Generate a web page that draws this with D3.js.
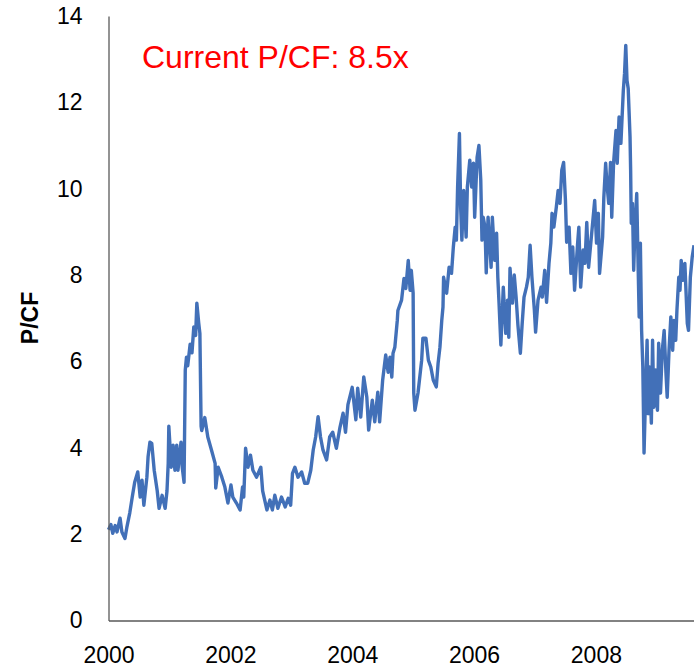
<!DOCTYPE html>
<html>
<head>
<meta charset="utf-8">
<script src="https://cdn.jsdelivr.net/npm/d3@7"></script>
<style>
  body { margin: 0; background: #fff; }
  svg { display: block; font-family: "Liberation Sans", Arial, sans-serif; }
  .axis text { font-size: 23px; fill: #000; }
  .axis path { stroke: #595959; stroke-width: 1.3; }
</style>
</head>
<body>
<svg id="chart" width="694" height="667"></svg>
<script>
// decimal year of each reading
var years = [
  2000.00, 2000.04, 2000.07, 2000.11, 2000.14, 2000.19, 2000.22, 2000.27, 2000.30, 2000.35,
  2000.39, 2000.43, 2000.48, 2000.52, 2000.55, 2000.58, 2000.63, 2000.65, 2000.68, 2000.71,
  2000.75, 2000.80, 2000.83, 2000.88, 2000.93, 2000.96, 2000.98, 2000.99, 2001.03, 2001.06,
  2001.09, 2001.12, 2001.14, 2001.19, 2001.21, 2001.24, 2001.26, 2001.28, 2001.30, 2001.34,
  2001.37, 2001.40, 2001.43, 2001.45, 2001.48, 2001.50, 2001.52, 2001.53, 2001.58, 2001.63,
  2001.69, 2001.75, 2001.76, 2001.80, 2001.86, 2001.91, 2001.96, 2002.01, 2002.04, 2002.10,
  2002.16, 2002.20, 2002.22, 2002.25, 2002.29, 2002.33, 2002.37, 2002.43, 2002.50, 2002.53,
  2002.60, 2002.65, 2002.69, 2002.73, 2002.78, 2002.84, 2002.90, 2002.95, 2002.99, 2003.02,
  2003.06, 2003.11, 2003.17, 2003.22, 2003.27, 2003.32, 2003.36, 2003.40, 2003.44, 2003.48,
  2003.52, 2003.58, 2003.63, 2003.68, 2003.74, 2003.80, 2003.85, 2003.89, 2003.93, 2004.00,
  2004.06, 2004.09, 2004.14, 2004.19, 2004.24, 2004.27, 2004.33, 2004.37, 2004.42, 2004.45,
  2004.50, 2004.55, 2004.59, 2004.62, 2004.65, 2004.67, 2004.70, 2004.74, 2004.75, 2004.81,
  2004.85, 2004.88, 2004.92, 2004.95, 2004.97, 2005.00, 2005.01, 2005.03, 2005.08, 2005.14,
  2005.16, 2005.21, 2005.25, 2005.29, 2005.33, 2005.38, 2005.41, 2005.44, 2005.47, 2005.49,
  2005.50, 2005.55, 2005.59, 2005.63, 2005.66, 2005.69, 2005.71, 2005.73, 2005.76, 2005.78,
  2005.80, 2005.83, 2005.87, 2005.89, 2005.93, 2005.96, 2005.99, 2006.01, 2006.05, 2006.08,
  2006.11, 2006.13, 2006.15, 2006.18, 2006.20, 2006.23, 2006.28, 2006.30, 2006.34, 2006.37,
  2006.39, 2006.41, 2006.44, 2006.48, 2006.52, 2006.55, 2006.57, 2006.59, 2006.63, 2006.66,
  2006.69, 2006.72, 2006.76, 2006.79, 2006.82, 2006.86, 2006.89, 2006.92, 2006.95, 2006.99,
  2007.01, 2007.05, 2007.10, 2007.12, 2007.16, 2007.19, 2007.23, 2007.26, 2007.28, 2007.31,
  2007.35, 2007.38, 2007.41, 2007.44, 2007.47, 2007.50, 2007.52, 2007.56, 2007.59, 2007.62,
  2007.65, 2007.70, 2007.72, 2007.75, 2007.79, 2007.82, 2007.85, 2007.88, 2007.94, 2007.98,
  2008.01, 2008.04, 2008.06, 2008.11, 2008.13, 2008.16, 2008.18, 2008.21, 2008.24, 2008.26,
  2008.29, 2008.33, 2008.35, 2008.38, 2008.41, 2008.45, 2008.47, 2008.49, 2008.51, 2008.53,
  2008.56, 2008.57, 2008.58, 2008.60, 2008.62, 2008.64, 2008.67, 2008.69, 2008.71, 2008.73,
  2008.75, 2008.77, 2008.79, 2008.82, 2008.84, 2008.86, 2008.88, 2008.91, 2008.93, 2008.95,
  2008.98, 2009.01, 2009.03, 2009.06, 2009.09, 2009.12, 2009.15, 2009.17, 2009.20, 2009.23,
  2009.26, 2009.28, 2009.31, 2009.33, 2009.36, 2009.38, 2009.40, 2009.43, 2009.46, 2009.50,
  2009.52, 2009.55, 2009.58, 2009.61
];

// price / cash flow
var pcf = [
  2.10, 2.22, 2.02, 2.20, 2.05, 2.37, 2.05, 1.90, 2.15, 2.50,
  2.86, 3.20, 3.44, 2.86, 3.25, 2.67, 3.32, 3.80, 4.13, 4.10,
  3.48, 3.00, 2.60, 2.90, 2.60, 3.00, 3.64, 4.50, 3.55, 4.06,
  3.48, 4.06, 3.48, 4.13, 3.55, 3.20, 5.80, 6.10, 5.90, 6.40,
  6.20, 6.80, 6.60, 7.35, 6.90, 6.65, 4.50, 4.40, 4.70, 4.25,
  3.95, 3.64, 3.07, 3.55, 3.32, 3.09, 2.72, 3.14, 2.86, 2.72,
  2.56, 3.09, 2.86, 3.99, 3.55, 3.83, 3.48, 3.32, 3.55, 3.00,
  2.56, 2.79, 2.56, 2.90, 2.60, 2.86, 2.63, 2.83, 2.67, 3.41,
  3.55, 3.32, 3.44, 3.18, 3.18, 3.48, 3.95, 4.25, 4.72, 4.25,
  3.95, 3.72, 4.25, 4.36, 3.99, 4.48, 4.80, 4.36, 5.00, 5.40,
  4.65, 5.38, 4.71, 5.64, 5.17, 4.41, 5.10, 4.60, 5.29, 4.60,
  5.57, 6.15, 5.75, 6.10, 5.64, 6.19, 6.33, 6.95, 7.18, 7.42,
  7.92, 7.69, 8.34, 7.65, 8.11, 7.58, 5.27, 4.87, 5.27, 6.03,
  6.54, 6.54, 6.03, 5.87, 5.57, 5.41, 5.96, 6.33, 6.95, 7.26,
  7.95, 7.58, 8.18, 8.04, 8.65, 9.11, 8.81, 10.04, 11.28, 9.57,
  8.81, 9.96, 8.88, 10.04, 10.66, 10.04, 10.59, 9.34, 10.73, 11.00,
  10.20, 8.81, 9.34, 9.11, 8.05, 9.34, 8.18, 9.34, 8.34, 8.97,
  7.95, 7.35, 6.38, 7.72, 6.65, 7.42, 6.56, 8.16, 7.35, 8.00,
  7.49, 6.84, 6.19, 6.88, 7.49, 7.72, 7.95, 8.69, 7.95, 7.19,
  6.68, 7.42, 7.72, 7.49, 8.11, 7.37, 8.27, 8.74, 9.43, 9.11,
  9.57, 9.96, 9.66, 10.43, 10.61, 9.73, 8.76, 9.11, 8.04, 8.65,
  7.65, 8.74, 9.11, 7.72, 8.58, 8.27, 9.22, 8.18, 9.11, 9.73,
  8.74, 9.43, 8.04, 8.88, 9.80, 10.59, 10.13, 9.66, 10.61, 9.34,
  10.59, 11.35, 10.59, 11.66, 11.05, 12.28, 12.67, 13.32, 12.51, 12.32,
  11.20, 10.43, 9.20, 9.66, 8.11, 9.04, 9.89, 8.41, 7.03, 8.74,
  6.72, 5.87, 3.88, 5.50, 6.49, 4.79, 5.87, 4.57, 6.49, 4.94,
  5.80, 4.87, 6.42, 5.27, 6.26, 6.72, 5.73, 5.17, 6.26, 7.03,
  6.26, 6.95, 6.49, 7.19, 7.95, 7.65, 8.34, 7.88, 8.27, 6.88,
  6.72, 7.95, 8.41, 8.69
];

var xTicks = [2000, 2002, 2004, 2006, 2008];
var yTicks = [0, 2, 4, 6, 8, 10, 12, 14];
var note = "Current P/CF: 8.5x";

var svg = d3.select("#chart");

var x = d3.scaleLinear().domain([2000, 2009.61]).range([108.5, 694]);
var y = d3.scaleLinear().domain([0, 14]).range([620.5, 16]);

var line = d3.line()
  .x(function(d, i) { return x(years[i]); })
  .y(function(d) { return y(d); });

svg.append("path")
  .datum(pcf)
  .attr("d", line)
  .attr("fill", "none")
  .attr("stroke", "#4270b8")
  .attr("stroke-width", 3.4)
  .attr("stroke-linejoin", "round");

svg.append("g")
  .attr("class", "axis")
  .attr("transform", "translate(0,620.5)")
  .call(d3.axisBottom(x).tickValues(xTicks).tickFormat(d3.format("d"))
    .tickSize(0).tickSizeOuter(0).tickPadding(26));

svg.append("g")
  .attr("class", "axis")
  .attr("transform", "translate(108.5,0)")
  .call(d3.axisLeft(y).tickValues(yTicks).tickSize(0).tickSizeOuter(0).tickPadding(26));

svg.append("text")
  .attr("transform", "translate(38,318) rotate(-90)")
  .attr("text-anchor", "middle")
  .attr("font-size", 23)
  .attr("font-weight", "bold")
  .text("P/CF");

svg.append("text")
  .attr("x", 142)
  .attr("y", 68)
  .attr("font-size", 32)
  .attr("fill", "#ff0000")
  .text(note);
</script>
</body>
</html>
